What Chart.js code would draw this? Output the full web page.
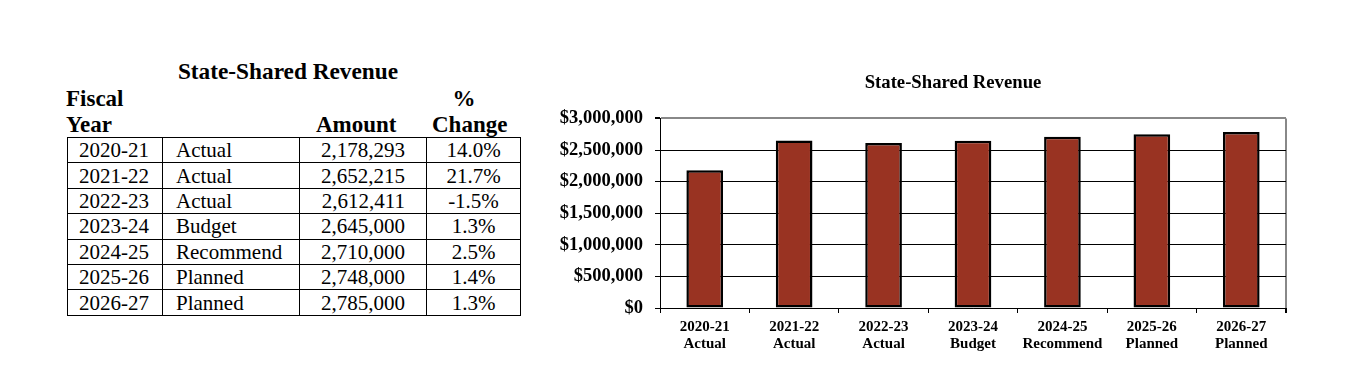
<!DOCTYPE html>
<html>
<head>
<meta charset="utf-8">
<script src="https://cdn.jsdelivr.net/npm/chart.js@4/dist/chart.umd.min.js"></script>
<style>
  html, body { margin: 0; padding: 0; background: #fff; }
  body { width: 1348px; height: 386px; position: relative; overflow: hidden;
         font-family: "Liberation Serif", "Times New Roman", serif; color: #000; }
  .hd { position: absolute; font-weight: bold; font-size: 23px; line-height: 26.7px; white-space: nowrap; }
  #tblTitle { position: absolute; left: 176px; width: 224px; top: 58px; text-align: center;
              font-weight: bold; font-size: 23.3px; line-height: 26px; white-space: nowrap; }
  #tbl { position: absolute; left: 67px; top: 137px; border-collapse: collapse; table-layout: fixed; width: 453px; }
  #tbl td { border: 1px solid #000; padding: 0; height: 24.4px; font-size: 21px; line-height: 24px; white-space: nowrap; }
  #tbl td.c1 { padding-left: 11px; }
  #tbl td.c2 { padding-left: 13px; }
  #tbl td.c3 { text-align: right; padding-right: 21px; }
  #tbl td.c4 { text-align: center; }
  #chartBox { position: absolute; left: 540px; top: 55px; width: 800px; height: 305px; }
</style>
</head>
<body>
<div id="tblTitle">State-Shared Revenue</div>
<div class="hd" style="left:66px; top:85.6px;">Fiscal</div>
<div class="hd" style="left:66px; top:112.2px;">Year</div>
<div class="hd" style="left:316px; top:112.2px;">Amount</div>
<div class="hd" style="left:450px; width:28px; text-align:center; top:85.6px;">%</div>
<div class="hd" style="left:432px; top:112.2px;">Change</div>
<table id="tbl">
  <colgroup><col style="width:95px"><col style="width:137px"><col style="width:127px"><col style="width:94px"></colgroup>
  <tbody id="tbody"></tbody>
</table>
<div id="chartBox"><canvas id="chart"></canvas></div>
<script>
// table / chart data
var years = ['2020-21', '2021-22', '2022-23', '2023-24', '2024-25', '2025-26', '2026-27'];
var stages = ['Actual', 'Actual', 'Actual', 'Budget', 'Recommend', 'Planned', 'Planned'];
var amounts = [2178293, 2652215, 2612411, 2645000, 2710000, 2748000, 2785000];
var pctChange = ['14.0%', '21.7%', '-1.5%', '1.3%', '2.5%', '1.4%', '1.3%'];
var yTicks = [0, 500000, 1000000, 1500000, 2000000, 2500000, 3000000];

var serif = '"Liberation Serif", "Times New Roman", serif';

// Build the table rows
var tbody = document.getElementById('tbody');
for (var i = 0; i < years.length; i++) {
  var tr = document.createElement('tr');
  var cells = [years[i], stages[i], amounts[i].toLocaleString('en-US'), pctChange[i]];
  cells.forEach(function (txt, j) {
    var td = document.createElement('td');
    td.className = 'c' + (j + 1);
    td.textContent = txt;
    tr.appendChild(td);
  });
  tbody.appendChild(tr);
}

// x-axis labels are two lines: year and stage
var labels = years.map(function (y, i) { return [y, stages[i]]; });

var ctx = document.getElementById('chart').getContext('2d');
var chart = new Chart(ctx, {
  type: 'bar',
  data: {
    labels: labels,
    datasets: [{
      data: amounts,
      backgroundColor: '#993322',
      borderColor: '#000',
      borderWidth: 2.5,
      borderSkipped: false,
      barPercentage: 0.41,
      categoryPercentage: 1
    }]
  },
  options: {
    responsive: true,
    maintainAspectRatio: false,
    animation: false,
    layout: { padding: { left: 80, right: 54, top: 0, bottom: 2 } },
    plugins: {
      legend: { display: false },
      tooltip: { enabled: false },
      title: {
        display: true,
        text: 'State-Shared Revenue',
        color: '#000',
        font: { family: serif, size: 18.7, weight: 'bold', lineHeight: 1.2 },
        padding: { top: 17, bottom: 24 }
      }
    },
    scales: {
      x: {
        grid: {
          offset: true,
          drawOnChartArea: true,
          color: function (c) { return c.type === 'tick' ? 'rgba(0,0,0,0)' : '#888'; },
          lineWidth: function (c) { return c.type === 'tick' ? 1 : 2; },
          tickColor: '#000',
          tickLength: 5
        },
        border: { color: '#000', width: 1 },
        ticks: {
          color: '#000',
          padding: 6,
          maxRotation: 0,
          autoSkip: false,
          font: { family: serif, size: 15, weight: 'bold', lineHeight: 1.1 }
        }
      },
      y: {
        min: 0,
        max: 3000000,
        afterFit: function (scale) {
          scale.width = 40;
          // labels hang out past the narrow axis box, so don't clip them
          scale._computeLabelArea = function () { return undefined; };
        },
        afterBuildTicks: function (scale) { scale.ticks = yTicks.map(function (v) { return { value: v }; }); },
        grid: {
          color: function (c) { return c.tick && c.tick.value === 3000000 ? '#888' : '#000'; },
          lineWidth: function (c) { return c.tick && c.tick.value === 3000000 ? 2 : 1; },
          tickColor: '#000',
          tickLength: 5
        },
        border: { color: '#000', width: 1 },
        ticks: {
          color: '#000',
          padding: 12,
          font: { family: serif, size: 18.5, weight: 'bold' },
          callback: function (v) { return '$' + Number(v).toLocaleString('en-US'); }
        }
      }
    }
  }
});
</script>
</body>
</html>
